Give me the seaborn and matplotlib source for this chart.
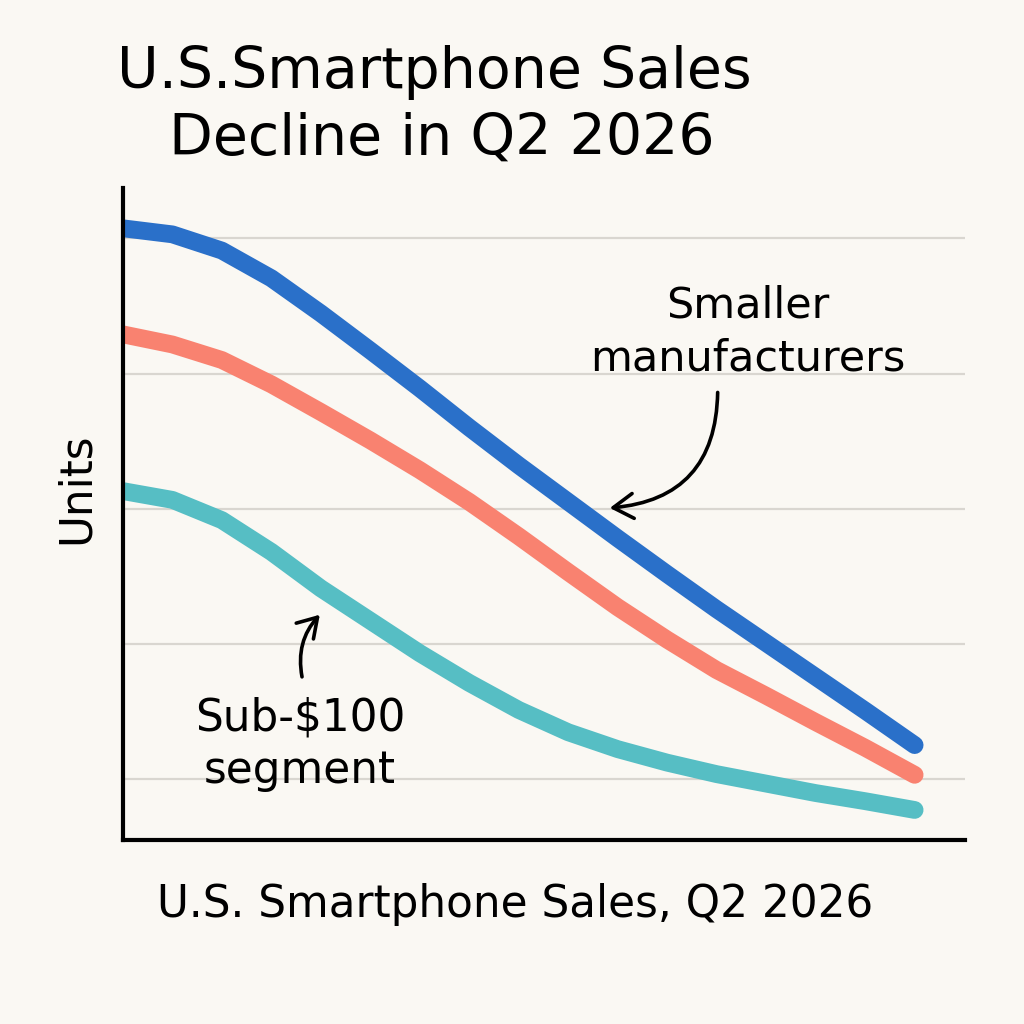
import matplotlib
matplotlib.use("Agg")
import matplotlib.pyplot as plt
import numpy as np
import pandas as pd
import seaborn as sns

# half-week readings across Q2 2026, units index
periods = list(range(17))
smaller_makers = [91.5, 90.6, 88.2, 84.1, 78.9, 73.4, 67.8, 62.0, 56.4,
                  51.0, 45.6, 40.3, 35.1, 30.1, 25.1, 20.1, 15.0]
overall = [75.8, 74.3, 72.0, 68.4, 64.3, 60.1, 55.7, 51.0, 45.9,
           40.6, 35.4, 30.6, 26.1, 22.3, 18.4, 14.6, 10.6]
sub_100 = [52.6, 51.3, 48.3, 43.6, 38.2, 33.4, 28.6, 24.2, 20.2,
           16.9, 14.4, 12.4, 10.7, 9.3, 7.9, 6.7, 5.4]

series_names = ["Smaller manufacturers", "Overall", "Sub-$100 segment"]
series_colors = ["#2A70C9", "#F98270", "#56BEC4"]
grid_ticks = [10, 30, 50, 70, 90]

n = len(periods)
df = pd.DataFrame({
    "period": periods * 3,
    "units": smaller_makers + overall + sub_100,
    "series": [series_names[0]] * n + [series_names[1]] * n + [series_names[2]] * n,
})

bg = "#FAF8F3"
sns.set_theme(style="white", rc={"figure.facecolor": bg, "axes.facecolor": bg})
plt.rcParams['font.family'] = ['DejaVu Sans']
plt.rcParams['text.color'] = 'black'
plt.rcParams['axes.labelcolor'] = 'black'

fig = plt.figure(figsize=(10.24, 10.24), dpi=100)
ax = fig.add_axes([0.120, 0.180, 0.822, 0.636])

sns.lineplot(data=df, x="period", y="units", hue="series", palette=series_colors,
             hue_order=series_names, linewidth=12.8, solid_capstyle="round",
             solid_joinstyle="round", legend=False, ax=ax)

ax.set_xlim(0, 17.01)
ax.set_ylim(1.0, 97.4)
ax.set_yticks(grid_ticks)
ax.set_xticks([])
ax.tick_params(axis="both", length=0, labelleft=False, labelbottom=False)
ax.grid(axis="y", color="#d9d6d0", linewidth=1.6)
ax.set_axisbelow(True)

sns.despine(ax=ax)
for side in ["left", "bottom"]:
    ax.spines[side].set_color("black")
    ax.spines[side].set_linewidth(3.0)

ax.set_xlabel("U.S. Smartphone Sales, Q2 2026", fontsize=31.5)
ax.xaxis.set_label_coords(0.466, -0.066)
ax.set_ylabel("Units", fontsize=31.5)
ax.yaxis.set_label_coords(-0.030, 0.54)

fig.text(434 / 1024, 1 - 88 / 1024, "U.S.Smartphone Sales", fontsize=41,
         ha="center", va="baseline")
fig.text(442 / 1024, 1 - 155 / 1024, "Decline in Q2 2026", fontsize=41,
         ha="center", va="baseline")

arrow_style = "->,head_length=0.45,head_width=0.28"

# callouts
ax.text(12.63, 78.3, "Smaller", fontsize=31, ha="center", va="baseline")
ax.text(12.63, 70.5, "manufacturers", fontsize=31, ha="center", va="baseline")
ax.annotate("", xy=(9.84, 50.1), xytext=(12.02, 67.2),
            arrowprops=dict(arrowstyle=arrow_style, mutation_scale=32,
                            color="black", lw=2.6, shrinkA=0, shrinkB=0,
                            connectionstyle="arc3,rad=-0.45"))

ax.text(3.58, 17.2, "Sub-\\$100", fontsize=31.5, ha="center", va="baseline")
ax.text(3.58, 9.4, "segment", fontsize=31.5, ha="center", va="baseline")
ax.annotate("", xy=(3.98, 34.3), xytext=(3.62, 25.1),
            arrowprops=dict(arrowstyle=arrow_style, mutation_scale=30,
                            color="black", lw=2.6, shrinkA=0, shrinkB=0,
                            connectionstyle="arc3,rad=-0.25"))

fig.savefig("out.png", dpi=100, facecolor=bg)
